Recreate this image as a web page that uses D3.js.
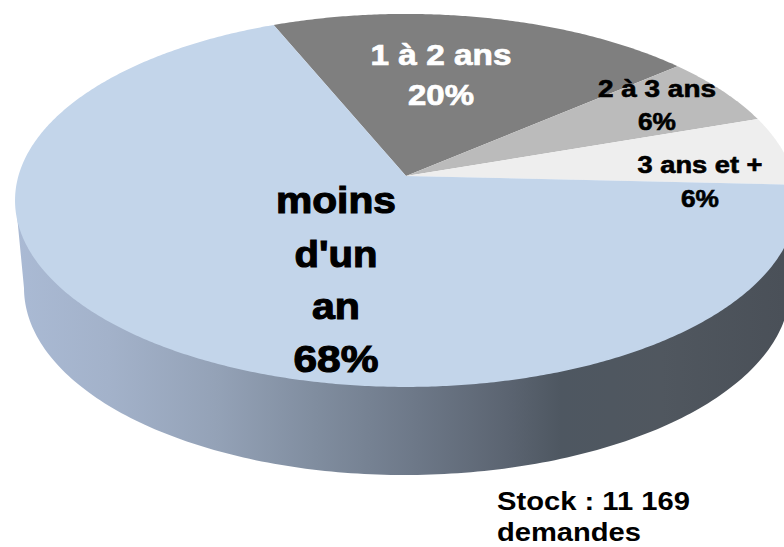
<!DOCTYPE html>
<html lang="fr">
<head>
<meta charset="utf-8">
<style>
html,body{margin:0;padding:0;background:#fff;overflow:hidden}
svg{display:block}
text{font-family:"Liberation Sans",Arial,sans-serif;font-weight:bold}
</style>
<script src="https://cdn.jsdelivr.net/npm/d3@7/dist/d3.min.js"></script>
</head>
<body>
<svg id="chart" width="784" height="547"></svg>
<script>
// Data, in drawing order (clockwise from the top left of the pie)
const categories = ["1 à 2 ans", "2 à 3 ans", "3 ans et +", "moins d'un an"];
const values = [20, 6, 6, 68];
const valueLabels = ["20%", "6%", "6%", "68%"];
const note = ["Stock : 11 169", "demandes"];

// Presentation
const width = 784, height = 547;
const apex = {x: 406, y: 176};
const persp = -0.131;
const xScale = d3.scaleLinear().domain([-1, 1]).range([apex.x - 387.6, apex.x + 387.6]);
const yScale = d3.scaleLinear().domain([-1, 1]).range([apex.y - 183.3, apex.y + 183.3]);
const sliceColors = d3.scaleOrdinal().domain(categories).range(["#7f7f7f", "#bbbbbb", "#eeeeee", "#c3d5ea"]);
const textColors = ["#ffffff", "#000000", "#000000", "#000000"];

const svg = d3.select("#chart").attr("viewBox", [0, 0, width, height]);

// Horizontal shading of the rim
const defs = svg.append("defs");
const wallStops = [
  [0, "#aabad4"], [0.12, "#a3b2ca"], [0.26, "#94a2b7"], [0.39, "#808d9f"],
  [0.52, "#6d7888"], [0.64, "#5b6471"], [0.71, "#4e5761"], [0.84, "#50575f"], [1, "#4a5058"]
];
defs.append("linearGradient").attr("id", "wall")
  .attr("gradientUnits", "userSpaceOnUse")
  .attr("x1", 16).attr("x2", 784).attr("y1", 0).attr("y2", 0)
  .selectAll("stop").data(wallStops).join("stop")
  .attr("offset", d => d[0]).attr("stop-color", d => d[1]);

// Projection of the unit disc on the tilted plane (angle 0 = up, clockwise)
function project(angle, r) {
  const u = r * Math.sin(angle), v = -r * Math.cos(angle);
  const w = 1 + persp * v;
  return [xScale(u / w), yScale(v / w)];
}
const line = d3.line();

// Rim: outline of the lower ellipse joined to the sides of the top face
const rimX = d3.scaleLinear().domain([-1, 0, 1]).range([24, 404, 790]);
const rimY = d3.scaleLinear().domain([-1, 1]).range([101, 475]);
const rimPts = [[16, 205]].concat(
  d3.range(181).map(i => {
    const t = Math.PI - i * Math.PI / 180;
    return [rimX(Math.cos(t)), rimY(Math.sin(t))];
  }),
  [[798, 200]]
);
svg.append("path").attr("d", line(rimPts) + "Z").attr("fill", "url(#wall)");

// Top face slices
const pie = d3.pie().sort(null).value(d => d)
  .startAngle(-22.5 * Math.PI / 180)
  .endAngle((360 - 22.5) * Math.PI / 180);
const arcs = pie(values);
svg.append("g").selectAll("path").data(arcs).join("path")
  .attr("fill", (d, i) => sliceColors(categories[i]))
  .attr("d", d => {
    const n = Math.ceil((d.endAngle - d.startAngle) * 120);
    const pts = [[apex.x, apex.y]];
    for (let k = 0; k <= n; k++) pts.push(project(d.startAngle + (d.endAngle - d.startAngle) * k / n, 1));
    return line(pts) + "Z";
  });

// Labels
const labelLines = [
  [categories[0], valueLabels[0]],
  [categories[1], valueLabels[1]],
  [categories[2], valueLabels[2]],
  ["moins", "d'un", "an", valueLabels[3]]
];
const labelLayout = [
  {x: 441, ys: [65, 105], size: 29, stroke: 0.7, lengths: [141, 66]},
  {x: 657, ys: [97, 130], size: 23, stroke: 0.6, lengths: [118, 38]},
  {x: 700, ys: [173, 207], size: 23, stroke: 0.6, lengths: [125, 38]},
  {x: 336, ys: [213, 267, 319, 372], size: 37, stroke: 1.1, lengths: [120, 83, 48, 85]}
];
const labelG = svg.append("g").attr("text-anchor", "middle");
labelLines.forEach((lines, i) => {
  const L = labelLayout[i];
  lines.forEach((t, j) => {
    labelG.append("text")
      .attr("x", L.x).attr("y", L.ys[j])
      .attr("font-size", L.size).attr("fill", textColors[i])
      .attr("stroke", textColors[i]).attr("stroke-width", L.stroke)
      .attr("textLength", L.lengths[j]).attr("lengthAdjust", "spacingAndGlyphs")
      .text(t);
  });
});

// Note under the pie
const noteLen = [193, 144], noteY = [510, 541];
svg.append("g").selectAll("text").data(note).join("text")
  .attr("x", 497).attr("y", (d, i) => noteY[i])
  .attr("font-size", 26).attr("fill", "#000")
  .attr("textLength", (d, i) => noteLen[i]).attr("lengthAdjust", "spacingAndGlyphs")
  .text(d => d);
</script>
</body>
</html>
